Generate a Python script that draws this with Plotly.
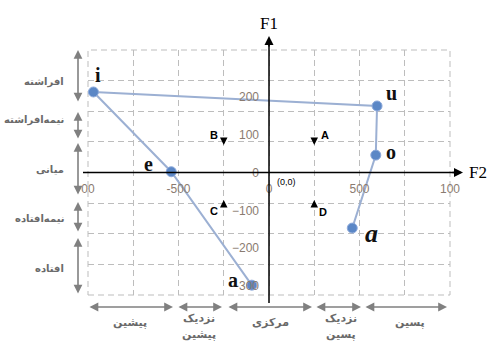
import plotly.graph_objects as go

# ---- data ----
vowels = ["a", "e", "i", "u", "o", "a"]
f2_vals = [-95, -540, -970, 597, 590, 460]
f1_vals = [-298, 2, 213, 176, 46, -147]

x_tickvals = [-1000, -500, 0, 500, 1000]
x_ticktext = ["00", "-500", "0", "500", "100"]
y_tickvals = [-300, -200, -100, 0, 100, 200]

height_labels = ["افراشته", "نیمه‌افراشته", "میانی", "نیمه‌افتاده", "افتاده"]
backness_lines = [["پیشین"], ["نزدیک", "پیشین"], ["مرکزی"], ["نزدیک", "پسین"], ["پسین"]]
quadrant_letters = ["A", "B", "C", "D"]
quadrant_f2 = [309, -304, -304, 298]
quadrant_f1 = [99, 99, -102, -104]
quad_arrow_f2 = [250, -250, -250, 250]
quad_arrow_f1 = [73, 73, -73, -73]
quad_arrow_dir = [-1, -1, 1, 1]  # -1: pointing down, 1: pointing up

# ---- layout constants ----
W, H = 487, 342
L, R, T, B = 88, 37, 50, 47
PW, PH = W - L - R, H - T - B


def px(x):
    return (x - L) / PW


def py(y):
    return (H - B - y) / PH


fig = go.Figure()

# invisible trace for the grid subplot
fig.add_trace(go.Scatter(x=[], y=[], xaxis="x2", yaxis="y2", showlegend=False, hoverinfo="skip"))

fig.add_trace(go.Scatter(
    x=f2_vals, y=f1_vals, mode="lines+markers",
    line=dict(color="#9cb0d3", width=2),
    marker=dict(color="#5b87c6", size=10, line=dict(color="#8eaadb", width=1)),
    showlegend=False, hoverinfo="skip",
))

ann = []
C = dict(xanchor="center", yanchor="middle")

# vowel labels
label_offsets = [(-19, 5), (-23, 8), (5, 17), (14, 13), (15, 3), (19, -5)]
for i, (v, xx, yy) in enumerate(zip(vowels, f2_vals, f1_vals)):
    italic = i == len(vowels) - 1
    ann.append(dict(
        x=xx, y=yy, xref="x", yref="y", text=v, showarrow=False, **C,
        xshift=label_offsets[i][0], yshift=label_offsets[i][1],
        font=dict(family="Liberation Serif", size=26 if italic else 20, color="#111111",
                  weight="bold", style="italic" if italic else "normal"),
    ))

# axis arrow heads
ann.append(dict(x=px(463), y=0.5, xref="paper", yref="paper", text="", showarrow=True,
                ax=-12, ay=0, arrowhead=2, arrowsize=1.2, arrowwidth=1.5, arrowcolor="#000000"))
ann.append(dict(x=0.5, y=py(36), xref="paper", yref="paper", text="", showarrow=True,
                ax=0, ay=12, arrowhead=2, arrowsize=1.2, arrowwidth=1.5, arrowcolor="#000000"))
ann.append(dict(x=0.5, y=py(23), xref="paper", yref="paper", text="F1", showarrow=False, **C,
                font=dict(family="Liberation Serif", size=17, color="#000000")))
ann.append(dict(x=px(478), y=py(172), xref="paper", yref="paper", text="F2", showarrow=False, **C,
                font=dict(family="Liberation Serif", size=17, color="#000000")))
ann.append(dict(x=99, y=-25, xref="x", yref="y", text="(0,0)", showarrow=False, **C,
                font=dict(family="Liberation Sans", size=9, color="#000000")))

# left height arrows
gray = "#808080"
left_segments = [(50, 103), (112, 140), (143, 196), (202, 233), (238, 295)]
left_label_y = [82, 120, 169, 218, 268]
for (t0, t1) in left_segments:
    ann.append(dict(x=px(78), y=py(t0), xref="paper", yref="paper", text="", showarrow=True,
                    ax=0, ay=t1 - t0, arrowside="end+start", arrowhead=2, arrowsize=1.1,
                    arrowwidth=1.6, arrowcolor=gray))
for lab, yy in zip(height_labels, left_label_y):
    ann.append(dict(x=px(66), y=py(yy), xref="paper", yref="paper", text=lab, showarrow=False,
                    xanchor="right", yanchor="middle",
                    font=dict(family="DejaVu Sans", size=10, color="#6a6a6a", weight="bold")))

# bottom backness arrows
bottom_segments = [(88, 173), (177, 222), (227, 312), (315, 361), (364, 447)]
bottom_label_x = [130, 199, 270, 341, 410]
for (s0, s1) in bottom_segments:
    ann.append(dict(x=px(s1), y=py(307), xref="paper", yref="paper", text="", showarrow=True,
                    ax=s0 - s1, ay=0, arrowside="end+start", arrowhead=2, arrowsize=1.1,
                    arrowwidth=1.6, arrowcolor=gray))
for lines, xx in zip(backness_lines, bottom_label_x):
    ys = [322] if len(lines) == 1 else [318, 334]
    for txt, yy in zip(lines, ys):
        ann.append(dict(x=px(xx), y=py(yy), xref="paper", yref="paper", text=txt, showarrow=False,
                        **C, font=dict(family="DejaVu Sans", size=11, color="#6a6a6a", weight="bold")))

# quadrant letters and small arrows
for lt, qx, qy, axx, ayy, d in zip(quadrant_letters, quadrant_f2, quadrant_f1,
                                    quad_arrow_f2, quad_arrow_f1, quad_arrow_dir):
    ann.append(dict(x=qx, y=qy, xref="x", yref="y", text=lt, showarrow=False, **C,
                    font=dict(family="Liberation Sans", size=11, color="#000000", weight="bold")))
    ann.append(dict(x=axx, y=ayy, xref="x", yref="y", text="", showarrow=True,
                    ax=0, ay=8 * d, arrowhead=2, arrowsize=1, arrowwidth=1.5, arrowcolor="#000000"))

grid_color = "#bdbdbd"
shapes = [
    dict(type="rect", xref="paper", yref="paper", x0=0, x1=1, y0=0, y1=1,
         line=dict(color=grid_color, width=1, dash="6px,4px"), layer="below"),
    # main axis lines (extend beyond the plotting area)
    dict(type="line", xref="paper", yref="paper", x0=px(83), x1=px(458), y0=0.5, y1=0.5,
         line=dict(color="#000000", width=1.5)),
    dict(type="line", xref="paper", yref="paper", x0=0.5, x1=0.5, y0=py(303), y1=py(40),
         line=dict(color="#000000", width=1.5)),
]

tick_font = dict(family="Liberation Sans", size=12, color="#8a7b70")
fig.update_layout(
    width=W, height=H, autosize=False,
    margin=dict(l=L, r=R, t=T, b=B),
    paper_bgcolor="white", plot_bgcolor="white",
    annotations=ann,
    shapes=shapes,
    xaxis=dict(range=[-1000, 1000], anchor="free", position=0.5, showgrid=False, zeroline=False,
               showline=False, tickmode="array", tickvals=x_tickvals, ticktext=x_ticktext,
               ticks="", ticklabelstandoff=7, automargin=False, tickfont=tick_font),
    yaxis=dict(range=[-324, 324], anchor="free", position=0.5, showgrid=False, zeroline=False,
               showline=False, tickmode="array", tickvals=y_tickvals,
               ticks="", ticklabelstandoff=10, automargin=False, tickfont=tick_font),
    xaxis2=dict(range=[-1000, 1000], overlaying="x", anchor="y2", tickmode="linear", tick0=-1000,
                dtick=250, showgrid=True, gridcolor=grid_color, griddash="6px,4px", gridwidth=1,
                showticklabels=False, zeroline=False, showline=False, ticks=""),
    yaxis2=dict(range=[-324, 324], overlaying="y", anchor="x2", tickmode="linear", tick0=0,
                dtick=81, showgrid=True, gridcolor=grid_color, griddash="6px,4px", gridwidth=1,
                showticklabels=False, zeroline=False, showline=False, ticks=""),
)

fig.write_html("out.html", config={"displayModeBar": False},
               post_script="document.body.style.margin='0';document.body.style.overflow='hidden';")
